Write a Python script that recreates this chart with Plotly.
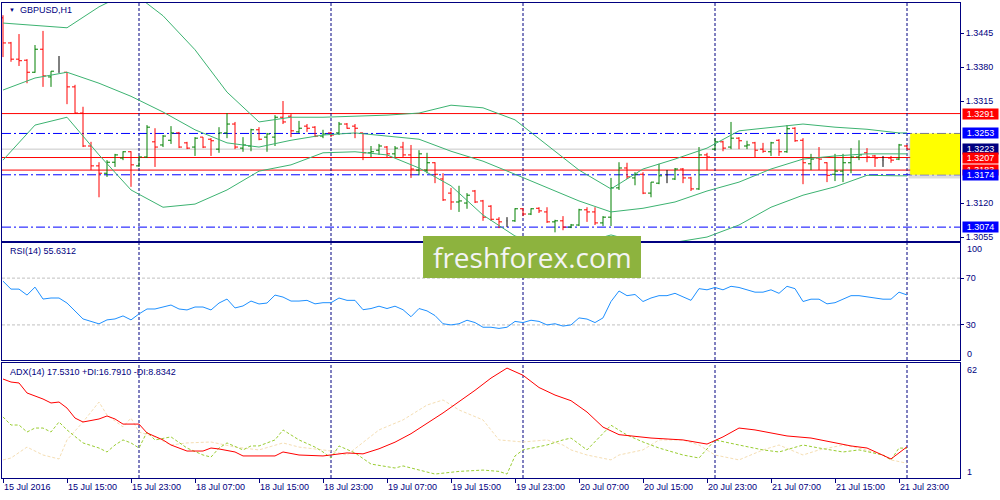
import plotly.graph_objects as go

# ---------------- data ----------------
times = [
    "2016.07.15 07:00", "2016.07.15 08:00", "2016.07.15 09:00", "2016.07.15 10:00", "2016.07.15 11:00",
    "2016.07.15 12:00", "2016.07.15 13:00", "2016.07.15 14:00", "2016.07.15 15:00", "2016.07.15 16:00",
    "2016.07.15 17:00", "2016.07.15 18:00", "2016.07.15 19:00", "2016.07.15 20:00", "2016.07.15 21:00",
    "2016.07.15 22:00", "2016.07.15 23:00",
    "2016.07.18 00:00", "2016.07.18 01:00", "2016.07.18 02:00", "2016.07.18 03:00", "2016.07.18 04:00",
    "2016.07.18 05:00", "2016.07.18 06:00", "2016.07.18 07:00", "2016.07.18 08:00", "2016.07.18 09:00",
    "2016.07.18 10:00", "2016.07.18 11:00", "2016.07.18 12:00", "2016.07.18 13:00", "2016.07.18 14:00",
    "2016.07.18 15:00", "2016.07.18 16:00", "2016.07.18 17:00", "2016.07.18 18:00", "2016.07.18 19:00",
    "2016.07.18 20:00", "2016.07.18 21:00", "2016.07.18 22:00", "2016.07.18 23:00",
    "2016.07.19 00:00", "2016.07.19 01:00", "2016.07.19 02:00", "2016.07.19 03:00", "2016.07.19 04:00",
    "2016.07.19 05:00", "2016.07.19 06:00", "2016.07.19 07:00", "2016.07.19 08:00", "2016.07.19 09:00",
    "2016.07.19 10:00", "2016.07.19 11:00", "2016.07.19 12:00", "2016.07.19 13:00", "2016.07.19 14:00",
    "2016.07.19 15:00", "2016.07.19 16:00", "2016.07.19 17:00", "2016.07.19 18:00", "2016.07.19 19:00",
    "2016.07.19 20:00", "2016.07.19 21:00", "2016.07.19 22:00", "2016.07.19 23:00",
    "2016.07.20 00:00", "2016.07.20 01:00", "2016.07.20 02:00", "2016.07.20 03:00", "2016.07.20 04:00",
    "2016.07.20 05:00", "2016.07.20 06:00", "2016.07.20 07:00", "2016.07.20 08:00", "2016.07.20 09:00",
    "2016.07.20 10:00", "2016.07.20 11:00", "2016.07.20 12:00", "2016.07.20 13:00", "2016.07.20 14:00",
    "2016.07.20 15:00", "2016.07.20 16:00", "2016.07.20 17:00", "2016.07.20 18:00", "2016.07.20 19:00",
    "2016.07.20 20:00", "2016.07.20 21:00", "2016.07.20 22:00", "2016.07.20 23:00",
    "2016.07.21 00:00", "2016.07.21 01:00", "2016.07.21 02:00", "2016.07.21 03:00", "2016.07.21 04:00",
    "2016.07.21 05:00", "2016.07.21 06:00", "2016.07.21 07:00", "2016.07.21 08:00", "2016.07.21 09:00",
    "2016.07.21 10:00", "2016.07.21 11:00", "2016.07.21 12:00", "2016.07.21 13:00", "2016.07.21 14:00",
    "2016.07.21 15:00", "2016.07.21 16:00", "2016.07.21 17:00", "2016.07.21 18:00", "2016.07.21 19:00",
    "2016.07.21 20:00", "2016.07.21 21:00", "2016.07.21 22:00", "2016.07.21 23:00",
    "2016.07.22 00:00",
]

opens = [
    1.3474, 1.3426, 1.3395, 1.3393, 1.3370, 1.3414, 1.3361, 1.3370, 1.3370, 1.3342,
    1.3292, 1.3229, 1.3191, 1.3177, 1.3198, 1.3206, 1.3218, 1.3191, 1.3208, 1.3237,
    1.3231, 1.3240, 1.3254, 1.3235, 1.3227, 1.3246, 1.3242, 1.3223, 1.3254, 1.3271,
    1.3225, 1.3229, 1.3260, 1.3246, 1.3246, 1.3284, 1.3286, 1.3256, 1.3267, 1.3265,
    1.3248, 1.3254, 1.3254, 1.3271, 1.3267, 1.3254, 1.3216, 1.3221, 1.3227, 1.3214,
    1.3227, 1.3212, 1.3183, 1.3183, 1.3197, 1.3166, 1.3139, 1.3122, 1.3120, 1.3143,
    1.3124, 1.3114, 1.3089, 1.3086, 1.3086, 1.3109, 1.3099, 1.3110, 1.3103, 1.3084,
    1.3086, 1.3074, 1.3078, 1.3107, 1.3103, 1.3082, 1.3093, 1.3149, 1.3187, 1.3168,
    1.3175, 1.3139, 1.3158, 1.3173, 1.3166, 1.3185, 1.3168, 1.3147, 1.3212, 1.3223,
    1.3237, 1.3227, 1.3244, 1.3229, 1.3235, 1.3223, 1.3218, 1.3240, 1.3218, 1.3263,
    1.3240, 1.3195, 1.3206, 1.3197, 1.3175, 1.3181, 1.3197, 1.3208, 1.3216, 1.3210,
    1.3202, 1.3206, 1.3204, 1.3229,
]
highs = [
    1.3479, 1.3428, 1.3443, 1.3395, 1.3422, 1.3449, 1.3372, 1.3401, 1.3370, 1.3346,
    1.3304, 1.3237, 1.3198, 1.3202, 1.3214, 1.3219, 1.3219, 1.3210, 1.3269, 1.3263,
    1.3250, 1.3267, 1.3256, 1.3237, 1.3246, 1.3246, 1.3244, 1.3265, 1.3292, 1.3275,
    1.3246, 1.3262, 1.3265, 1.3254, 1.3288, 1.3315, 1.3290, 1.3277, 1.3271, 1.3267,
    1.3260, 1.3256, 1.3275, 1.3273, 1.3271, 1.3254, 1.3229, 1.3233, 1.3229, 1.3229,
    1.3237, 1.3231, 1.3221, 1.3216, 1.3198, 1.3177, 1.3149, 1.3153, 1.3139, 1.3145,
    1.3126, 1.3116, 1.3093, 1.3093, 1.3110, 1.3110, 1.3110, 1.3112, 1.3112, 1.3088,
    1.3095, 1.3080, 1.3109, 1.3112, 1.3112, 1.3095, 1.3168, 1.3198, 1.3197, 1.3179,
    1.3179, 1.3160, 1.3195, 1.3183, 1.3187, 1.3187, 1.3170, 1.3227, 1.3216, 1.3244,
    1.3239, 1.3275, 1.3246, 1.3239, 1.3237, 1.3235, 1.3237, 1.3242, 1.3269, 1.3265,
    1.3244, 1.3214, 1.3227, 1.3198, 1.3214, 1.3214, 1.3225, 1.3240, 1.3225, 1.3212,
    1.3210, 1.3210, 1.3233, 1.3231,
]
lows = [
    1.3399, 1.3390, 1.3382, 1.3349, 1.3369, 1.3342, 1.3342, 1.3369, 1.3309, 1.3292,
    1.3227, 1.3183, 1.3131, 1.3170, 1.3189, 1.3202, 1.3151, 1.3189, 1.3206, 1.3189,
    1.3227, 1.3233, 1.3225, 1.3223, 1.3210, 1.3225, 1.3210, 1.3216, 1.3244, 1.3223,
    1.3218, 1.3219, 1.3240, 1.3218, 1.3229, 1.3271, 1.3246, 1.3254, 1.3256, 1.3246,
    1.3244, 1.3246, 1.3250, 1.3262, 1.3244, 1.3202, 1.3208, 1.3212, 1.3206, 1.3208,
    1.3208, 1.3168, 1.3173, 1.3177, 1.3158, 1.3124, 1.3107, 1.3103, 1.3109, 1.3120,
    1.3086, 1.3086, 1.3072, 1.3074, 1.3084, 1.3095, 1.3097, 1.3101, 1.3082, 1.3064,
    1.3068, 1.3072, 1.3076, 1.3084, 1.3078, 1.3076, 1.3076, 1.3145, 1.3166, 1.3154,
    1.3137, 1.3131, 1.3156, 1.3158, 1.3164, 1.3158, 1.3143, 1.3145, 1.3183, 1.3221,
    1.3219, 1.3223, 1.3223, 1.3223, 1.3208, 1.3216, 1.3210, 1.3210, 1.3216, 1.3237,
    1.3156, 1.3183, 1.3183, 1.3160, 1.3162, 1.3160, 1.3177, 1.3202, 1.3198, 1.3189,
    1.3189, 1.3197, 1.3202, 1.3223,
]
closes = [
    1.3426, 1.3395, 1.3392, 1.3370, 1.3414, 1.3363, 1.3372, 1.3370, 1.3342, 1.3292,
    1.3229, 1.3191, 1.3177, 1.3198, 1.3212, 1.3218, 1.3193, 1.3208, 1.3265, 1.3227,
    1.3248, 1.3254, 1.3227, 1.3225, 1.3244, 1.3227, 1.3239, 1.3254, 1.3271, 1.3227,
    1.3231, 1.3260, 1.3242, 1.3252, 1.3284, 1.3275, 1.3258, 1.3263, 1.3263, 1.3248,
    1.3252, 1.3250, 1.3271, 1.3263, 1.3263, 1.3216, 1.3218, 1.3229, 1.3214, 1.3225,
    1.3212, 1.3185, 1.3214, 1.3197, 1.3175, 1.3126, 1.3122, 1.3124, 1.3135, 1.3122,
    1.3093, 1.3089, 1.3084, 1.3086, 1.3109, 1.3099, 1.3109, 1.3105, 1.3084, 1.3086,
    1.3074, 1.3078, 1.3107, 1.3103, 1.3082, 1.3093, 1.3149, 1.3187, 1.3170, 1.3175,
    1.3139, 1.3160, 1.3172, 1.3173, 1.3185, 1.3168, 1.3147, 1.3212, 1.3208, 1.3237,
    1.3225, 1.3244, 1.3239, 1.3231, 1.3221, 1.3219, 1.3235, 1.3218, 1.3262, 1.3239,
    1.3197, 1.3204, 1.3204, 1.3173, 1.3181, 1.3197, 1.3208, 1.3212, 1.3208, 1.3206,
    1.3202, 1.3202, 1.3231, 1.3223,
]

# Bollinger bands (read every 4 bars)
band_idx = [0, 4, 8, 12, 16, 20, 24, 28, 32, 36, 40, 44, 48, 52, 56, 60, 64, 68, 72,
            76, 80, 84, 88, 92, 96, 100, 104, 108, 112, 113]
bb_upper = [1.3464, 1.3460, 1.3455, 1.3495, 1.3525, 1.3478, 1.3413, 1.3332, 1.3275, 1.3284,
            1.3284, 1.3286, 1.3288, 1.3292, 1.3307, 1.3302, 1.3279, 1.3231, 1.3183, 1.3147,
            1.3185, 1.3204, 1.3225, 1.3258, 1.3265, 1.3271, 1.3265, 1.3261, 1.3254, 1.3254]
bb_middle = [1.3336, 1.3359, 1.3370, 1.3349, 1.3324, 1.3294, 1.3260, 1.3235, 1.3227, 1.3240,
             1.3250, 1.3254, 1.3248, 1.3242, 1.3219, 1.3200, 1.3175, 1.3149, 1.3124, 1.3103,
             1.3110, 1.3122, 1.3143, 1.3160, 1.3185, 1.3204, 1.3210, 1.3214, 1.3214, 1.3214]
bb_lower = [1.3202, 1.3269, 1.3284, 1.3212, 1.3145, 1.3112, 1.3118, 1.3145, 1.3181, 1.3193,
            1.3216, 1.3218, 1.3212, 1.3187, 1.3153, 1.3097, 1.3057, 1.3040, 1.3042, 1.3059,
            1.3043, 1.3045, 1.3055, 1.3078, 1.3112, 1.3135, 1.3151, 1.3173, 1.3172, 1.3172]

# RSI(14)
rsi_idx = [0, 1, 2, 3, 4, 5, 6, 7, 8, 10, 12, 13, 14, 15, 16, 17, 18, 19, 21, 22, 23, 24, 25,
           26, 27, 28, 29, 30, 31, 32, 33, 34, 35, 36, 37, 38, 39, 40, 41, 42, 43, 44, 45, 46,
           47, 48, 49, 50, 51, 52, 53, 54, 55, 56, 57, 58, 59, 60, 61, 62, 63, 64, 65, 66, 67,
           68, 69, 70, 71, 72, 73, 74, 75, 76, 77, 78, 79, 80, 81, 82, 83, 84, 85, 86, 87, 88,
           89, 90, 91, 92, 93, 94, 95, 96, 97, 98, 99, 100, 101, 102, 103, 104, 105, 106, 107,
           108, 109, 110, 111, 112, 113]
rsi_val = [67.4, 60.6, 60.6, 55.5, 62.3, 52.1, 53.0, 53.0, 48.7, 35.1, 30.9, 34.3, 35.1, 37.7,
           34.3, 39.4, 43.6, 43.6, 47.0, 43.6, 42.8, 45.3, 45.3, 42.8, 48.7, 52.1, 44.5, 46.2,
           50.4, 47.9, 48.7, 55.5, 53.8, 50.4, 50.4, 51, 48, 49, 49, 53, 51, 51, 43, 44, 46, 44,
           46, 43, 37, 44, 42, 38, 31, 30, 31, 34, 32, 28, 28, 27, 28, 33, 32, 34, 33, 30, 31,
           29, 30, 36, 35, 32, 36, 50, 59, 55, 56, 50, 53, 55, 55, 57, 54, 51, 61, 60, 62, 60,
           63, 62, 60, 58, 58, 60, 57, 63, 61, 50, 52, 52, 48, 49, 52, 55, 55, 54, 53, 52, 52,
           58, 55.6]

# ADX(14)
adx_idx = [0, 1, 2, 3, 5, 6, 7, 8, 9, 10, 12, 13, 14, 15, 17, 18, 20, 21, 23, 25, 26, 27, 29,
           30, 34, 35, 37, 40, 43, 45, 47, 49, 51, 53, 55, 57, 59, 61, 63, 65, 67, 69, 71, 73,
           75, 77, 81, 85, 88, 90, 92, 94, 96, 98, 101, 103, 106, 108, 111, 113]
adx_val = [53.5, 51.9, 51.4, 46.1, 42.9, 40.8, 41.3, 38.1, 32.8, 30.7, 32.3, 33.9, 32.3, 29.6,
           29.6, 24.9, 21.2, 18.5, 15.3, 15.3, 16.9, 16.4, 14.8, 12.7, 12.7, 14.8, 13.2, 12.7,
           14.3, 13.8, 16.5, 20.0, 24.5, 30.0, 35.5, 41.5, 47.5, 54.0, 59.3, 55.5, 49.0, 45.0,
           42.0, 36.0, 28.0, 24.0, 22.2, 21.2, 19.0, 22.8, 27.5, 26.5, 24.9, 23.3, 22.2, 20.6,
           18.0, 16.9, 11.1, 17.53]
pdi_idx = [0, 1, 2, 3, 4, 5, 6, 7, 8, 9, 10, 12, 13, 14, 15, 16, 17, 18, 19, 21, 23, 25, 26,
           27, 28, 30, 31, 32, 34, 35, 37, 39, 40, 41, 42, 44, 46, 49, 50, 54, 57, 60, 62, 63,
           64, 65, 68, 70, 71, 73, 75, 76, 78, 80, 82, 85, 87, 89, 92, 95, 97, 100, 102, 105,
           107, 110, 111, 112, 113]
pdi_val = [33.4, 29.1, 29.1, 25.4, 27.5, 27.5, 25.4, 30.7, 26.5, 22.8, 19.6, 16.9, 14.8, 18.5,
           21.2, 19.6, 16.9, 25.4, 21.2, 22.8, 16.9, 13.2, 12.1, 16.9, 19.6, 15.9, 18.0, 18.0,
           21.2, 26.5, 21.2, 17.4, 14.8, 11.6, 18.0, 14.3, 8.4, 6.3, 7.4, 3.1, 4.5, 5.2, 4.5,
           3.1, 12.7, 15.9, 18.5, 21.2, 22.2, 15.9, 25.0, 29.0, 23.8, 20.1, 16.9, 13.2, 11.6,
           21.2, 18.5, 15.9, 14.8, 18.5, 16.9, 14.8, 15.9, 13.2, 10.6, 16.9, 16.79]
mdi_idx = [0, 1, 3, 5, 7, 8, 10, 12, 13, 15, 16, 17, 19, 21, 23, 26, 29, 32, 35, 37, 40, 41,
           43, 47, 50, 53, 55, 57, 60, 62, 65, 68, 70, 71, 73, 76, 77, 80, 82, 85, 87, 89, 92,
           95, 97, 100, 102, 105, 107, 110, 111, 113]
mdi_val = [10.6, 11.6, 17.4, 13.2, 11.1, 21.2, 30.7, 41.3, 34.4, 28.1, 32.8, 25.4, 22.8, 18.5,
           19.6, 20.1, 17.4, 15.9, 19.6, 17.4, 15.9, 15.3, 13.2, 26.5, 31.8, 39.7, 42.4, 37.1,
           31.8, 21.2, 20.1, 21.2, 18.5, 15.9, 13.2, 10.6, 13.2, 15.9, 21.2, 21.2, 18.5, 13.2,
           10.6, 15.9, 18.5, 13.2, 15.9, 18.5, 16.9, 13.2, 10.6, 8.83]

# x axis tick labels
tick_times = ["2016.07.15 07:00", "2016.07.15 15:00", "2016.07.15 23:00", "2016.07.18 07:00",
              "2016.07.18 15:00", "2016.07.18 23:00", "2016.07.19 07:00", "2016.07.19 15:00",
              "2016.07.19 23:00", "2016.07.20 07:00", "2016.07.20 15:00", "2016.07.20 23:00",
              "2016.07.21 07:00", "2016.07.21 15:00", "2016.07.21 23:00"]
tick_text = ["15 Jul 2016", "15 Jul 15:00", "15 Jul 23:00", "18 Jul 07:00", "18 Jul 15:00",
             "18 Jul 23:00", "19 Jul 07:00", "19 Jul 15:00", "19 Jul 23:00", "20 Jul 07:00",
             "20 Jul 15:00", "20 Jul 23:00", "21 Jul 07:00", "21 Jul 15:00", "21 Jul 23:00"]
price_ticks = [1.3445, 1.3380, 1.3315, 1.3120, 1.3055]

red_levels = [1.3291, 1.3207, 1.3183]
blue_levels = [1.3253, 1.3174, 1.3074]
bid_price = 1.3223
zone_top, zone_bottom = 1.3253, 1.3174

# ---------------- styling ----------------
NAVY = "#000080"
FONT = "Tahoma, 'Liberation Sans', Arial, sans-serif"
BAR_GREEN = "#008000"
BAR_RED = "#FF0000"
BAND = "#3CB371"

n = len(times)
idx = list(range(n))
xr = [-0.125, 119.625]

fig = go.Figure()


def add_ohlc(sel, color):
    diffs = [b - a for a, b in zip(sel, sel[1:])]
    md = min(diffs) if diffs else 1
    fig.add_trace(go.Ohlc(
        x=sel, open=[opens[i] for i in sel], high=[highs[i] for i in sel],
        low=[lows[i] for i in sel], close=[closes[i] for i in sel],
        increasing=dict(line=dict(color=color, width=1)),
        decreasing=dict(line=dict(color=color, width=1)),
        tickwidth=min(0.5, 0.375 / md), hoverinfo="skip", showlegend=False,
        xaxis="x", yaxis="y"))


add_ohlc([i for i in idx if closes[i] > opens[i]], BAR_GREEN)
add_ohlc([i for i in idx if closes[i] < opens[i]], BAR_RED)
add_ohlc([i for i in idx if closes[i] == opens[i]], "#000000")

for band in (bb_upper, bb_middle, bb_lower):
    fig.add_trace(go.Scatter(x=band_idx, y=band, mode="lines", line=dict(color=BAND, width=1),
                             hoverinfo="skip", showlegend=False, xaxis="x", yaxis="y"))

fig.add_trace(go.Scatter(x=rsi_idx, y=rsi_val, mode="lines", line=dict(color="#1E90FF", width=1),
                         hoverinfo="skip", showlegend=False, xaxis="x2", yaxis="y2"))

fig.add_trace(go.Scatter(x=mdi_idx, y=mdi_val, mode="lines",
                         line=dict(color="#F5DEB3", width=1, dash="3px,2px"),
                         hoverinfo="skip", showlegend=False, xaxis="x3", yaxis="y3"))
fig.add_trace(go.Scatter(x=pdi_idx, y=pdi_val, mode="lines",
                         line=dict(color="#9ACD32", width=1, dash="3px,2px"),
                         hoverinfo="skip", showlegend=False, xaxis="x3", yaxis="y3"))
fig.add_trace(go.Scatter(x=adx_idx, y=adx_val, mode="lines", line=dict(color="#FF0000", width=1),
                         hoverinfo="skip", showlegend=False, xaxis="x3", yaxis="y3"))

shapes = []
# RSI levels
for lv in (70, 30):
    shapes.append(dict(type="line", xref="x2 domain", yref="y2", x0=0, x1=1, y0=lv, y1=lv,
                       line=dict(color="#C0C0C0", width=1, dash="3px,2px"), layer="below"))
# red levels and bid line
for lv in red_levels:
    shapes.append(dict(type="line", xref="x domain", yref="y", x0=0, x1=1, y0=lv, y1=lv,
                       line=dict(color="#FF0000", width=1), layer="below"))
shapes.append(dict(type="line", xref="x domain", yref="y", x0=0, x1=1, y0=bid_price, y1=bid_price,
                   line=dict(color="#C8C8C8", width=1), layer="below"))
# day separators
seps = [i for i in range(1, n) if times[i][:10] != times[i - 1][:10]]
for s in seps:
    for xa, ya in (("x", "y"), ("x2", "y2"), ("x3", "y3")):
        shapes.append(dict(type="line", xref=xa, yref=ya + " domain", x0=s, x1=s, y0=0, y1=1,
                           line=dict(color=NAVY, width=1, dash="3px,2px"), layer="below"))
# yellow zone with soft shadow
zx0 = n - 1 + 0.4
shapes.append(dict(type="rect", xref="x", yref="y", x0=zx0 - 0.2, x1=xr[1], y0=zone_bottom - 0.0007,
                   y1=zone_top - 0.0006, fillcolor="rgba(120,120,120,0.25)", line=dict(width=0),
                   layer="below"))
shapes.append(dict(type="rect", xref="x", yref="y", x0=zx0, x1=xr[1], y0=zone_bottom, y1=zone_top,
                   fillcolor="#FFFF00", line=dict(width=0), layer="below"))
# blue dash-dot levels
for lv in blue_levels:
    shapes.append(dict(type="line", xref="x domain", yref="y", x0=0, x1=1, y0=lv, y1=lv,
                       line=dict(color="#0000FF", width=1, dash="9px,3px,2px,3px"), layer="below"))
# watermark box
wm_x0, wm_x1, wm_y0, wm_y1 = 0.4395, 0.6670, 0.4211, 0.5095
shapes.append(dict(type="rect", xref="paper", yref="paper", x0=wm_x0, x1=wm_x1, y0=wm_y0, y1=wm_y1,
                   fillcolor="#8DB33E", line=dict(width=0), layer="above"))

ann = []
# price labels on the right axis
label_order = [(1.3223, "#000080"), (1.3183, "#FF0000"), (1.3291, "#FF0000"), (1.3253, "#0000FF"),
               (1.3207, "#FF0000"), (1.3174, "#0000FF"), (1.3074, "#0000FF")]
for val, bg in label_order:
    ann.append(dict(x=1, xref="paper", xanchor="left", xshift=2, y=val, yref="y", yanchor="middle",
                    text=f"{val:.4f}", showarrow=False, bgcolor=bg, width=35, height=10,
                    borderpad=0, font=dict(color="white", size=9, family=FONT)))
# edge labels of indicator windows
for txt, yp in (("100", 0.4821), ("0", 0.2611), ("62", 0.2274), ("1", 0.0126)):
    ann.append(dict(x=1, xref="paper", xanchor="left", xshift=5, y=yp, yref="paper",
                    yanchor="middle", text=txt, showarrow=False,
                    font=dict(color=NAVY, size=9, family=FONT)))
# titles
ann.append(dict(x=0.0048, xref="paper", xanchor="left", y=0.9853, yref="paper", yanchor="middle",
                text="▼", showarrow=False, font=dict(color=NAVY, size=6, family=FONT)))
ann.append(dict(x=0.0167, xref="paper", xanchor="left", y=0.9853, yref="paper", yanchor="middle",
                text="GBPUSD,H1", showarrow=False, font=dict(color=NAVY, size=9, family=FONT)))
ann.append(dict(x=0.0063, xref="paper", xanchor="left", y=0.4779, yref="paper", yanchor="middle",
                text="RSI(14) 55.6312", showarrow=False, font=dict(color=NAVY, size=9, family=FONT)))
ann.append(dict(x=0.0063, xref="paper", xanchor="left", y=0.2232, yref="paper", yanchor="middle",
                text="ADX(14) 17.5310 +DI:16.7910 -DI:8.8342", showarrow=False,
                font=dict(color=NAVY, size=9, family=FONT)))
# watermark text
ann.append(dict(x=(wm_x0 + wm_x1) / 2, xref="paper", xanchor="center", y=(wm_y0 + wm_y1) / 2,
                yref="paper", yanchor="middle", text="freshforex.com", showarrow=False,
                font=dict(color="#F4F4F4", size=28, family="'Open Sans', 'Noto Sans', sans-serif")))

axis_common = dict(showline=True, mirror=True, linecolor=NAVY, linewidth=1, showgrid=False,
                   zeroline=False)
tickfont = dict(color=NAVY, size=9, family=FONT)

fig.update_layout(
    width=1000, height=500,
    margin=dict(l=2, r=40, t=3, b=22),
    paper_bgcolor="white", plot_bgcolor="white",
    showlegend=False,
    font=dict(family=FONT, color=NAVY, size=9),
    xaxis=dict(domain=[0, 1], anchor="y", range=xr, showticklabels=False, ticks="",
               rangeslider=dict(visible=False), **axis_common),
    xaxis2=dict(domain=[0, 1], anchor="y2", matches="x", showticklabels=False, ticks="",
                rangeslider=dict(visible=False), **axis_common),
    xaxis3=dict(domain=[0, 1], anchor="y3", matches="x", ticks="outside", ticklen=4,
                tickcolor=NAVY, tickvals=[times.index(t) for t in tick_times], ticktext=tick_text,
                ticklabelposition="outside right", tickfont=tickfont,
                rangeslider=dict(visible=False), **axis_common),
    yaxis=dict(domain=[0.4989, 1], anchor="x", side="right", range=[1.30474, 1.350235],
               tickvals=price_ticks, tickformat=".4f", ticks="outside", ticklen=3,
               tickcolor=NAVY, tickfont=tickfont, **axis_common),
    yaxis2=dict(domain=[0.2484, 0.4947], anchor="x2", side="right", range=[0, 100],
                tickvals=[30, 70], ticks="outside", ticklen=3, tickcolor=NAVY,
                tickfont=tickfont, **axis_common),
    yaxis3=dict(domain=[0, 0.2421], anchor="x3", side="right", range=[1, 62],
                showticklabels=False, ticks="", **axis_common),
    shapes=shapes,
    annotations=ann,
)

fig.write_html("out.html", config={"displayModeBar": False},
               post_script="document.body.style.margin='0px';"
                           "document.body.style.overflow='hidden';")
